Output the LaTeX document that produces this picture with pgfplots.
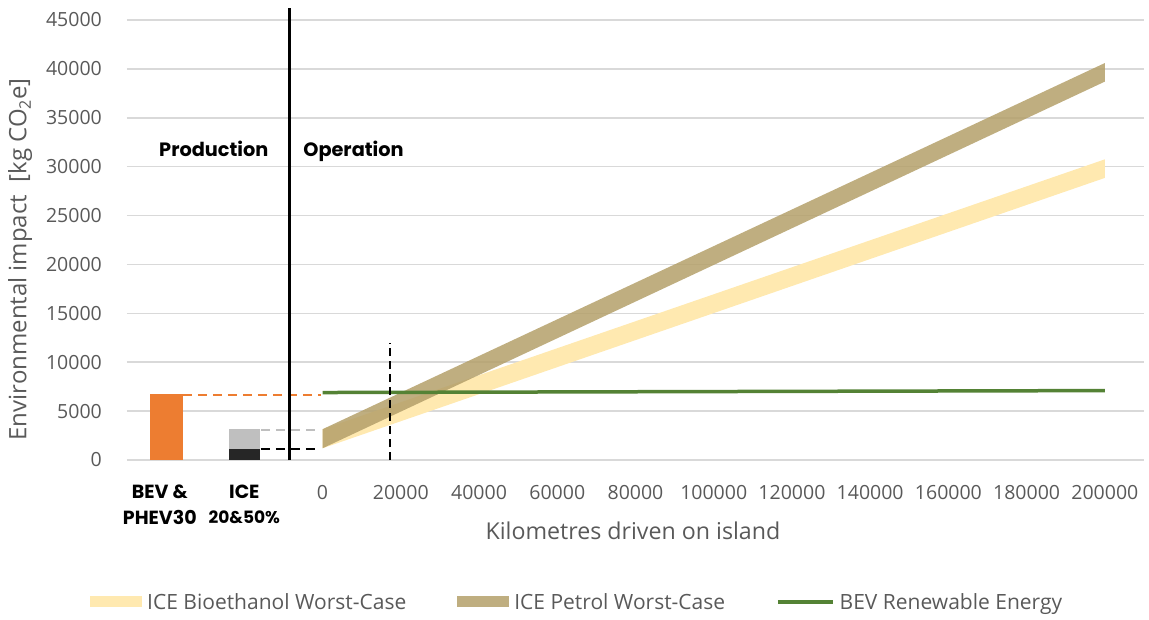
\documentclass[border=0pt]{standalone}
\usepackage{fontspec}
\setmainfont{Open Sans}
\newfontfamily\gothic{Poppins}
\usepackage{pgfplots}
\pgfplotsset{compat=1.18}

\definecolor{txtgray}{HTML}{595959}
\definecolor{gridgray}{HTML}{D9D9D9}
\definecolor{bevorange}{HTML}{ED7D31}
\definecolor{icegray}{HTML}{BFBFBF}
\definecolor{icedark}{HTML}{262626}
\definecolor{bevgreen}{HTML}{548235}
\definecolor{bioyellow}{RGB}{255,233,176}
\definecolor{petrol}{RGB}{180,160,106}

\pgfplotsset{
  arealeg/.style={legend image code/.code={\fill[##1] (0pt,-5.5pt) rectangle (52pt,5.5pt);}},
  lineleg/.style={legend image code/.code={\draw[##1] (0pt,0pt) -- (55pt,0pt);}},
}

\newcommand\catfont{\gothic\bfseries\fontsize{19}{20}\selectfont}
\newcommand\phasefont{\gothic\bfseries\fontsize{19.3}{20}\selectfont}

\begin{document}
\begin{tikzpicture}
\useasboundingbox (-127pt,-159pt) rectangle (1022pt,460pt);
\begin{axis}[
  at={(0pt,0pt)}, anchor=south west,
  scale only axis, width=1017pt, height=440pt,
  xmin=-50000, xmax=210000, ymin=0, ymax=45000,
  xtick={0,20000,40000,60000,80000,100000,120000,140000,160000,180000,200000},
  xticklabels={0,20000,40000,60000,80000,100000,120000,140000,160000,180000,200000},
  ytick={0,5000,10000,15000,20000,25000,30000,35000,40000,45000},
  yticklabels={0,5000,10000,15000,20000,25000,30000,35000,40000,45000},
  scaled ticks=false,
  ymajorgrids, grid style={draw=gridgray, line width=1.6pt},
  axis line style={draw=none},
  major tick length=0pt,
  tick label style={font=\fontsize{19.5}{22}\selectfont, text=txtgray, inner sep=0pt},
  xticklabel style={anchor=north, yshift=-25pt},
  yticklabel style={anchor=east, xshift=-25pt},
  xlabel={Kilometres driven on island},
  ylabel={Environmental impact\ \ [kg CO{\fontsize{16}{16}\selectfont\raisebox{-4.5pt}{2}}e]},
  label style={text=txtgray},
  xlabel style={font=\fontsize{23.2}{26}\selectfont, at={(axis description cs:0.4975,-0.161)}, anchor=center},
  ylabel style={font=\fontsize{24}{26}\selectfont, at={(axis description cs:-0.1052,0.4557)}, anchor=center},
  clip=false,
  no markers,
  legend columns=3,
  legend style={at={(axis description cs:-0.0364,-0.3227)}, anchor=west,
    draw=none, fill=none, inner sep=0pt,
    font=\fontsize{21}{24}\selectfont, text=txtgray,
    nodes={inner sep=0pt},
    /tikz/every odd column/.append style={column sep=5pt},
    /tikz/every even column/.append style={column sep=51pt}},
]

% operation bands
\addplot[fill=bioyellow, draw=none, arealeg]
  coordinates {(0,1200) (200000,28850) (200000,30750) (0,3150)} -- cycle;
\addlegendentry{ICE Bioethanol Worst-Case}
\addplot[fill=petrol, fill opacity=0.85, draw=none, arealeg]
  coordinates {(0,1200) (200000,38700) (200000,40600) (0,3150)} -- cycle;
\addlegendentry{ICE Petrol Worst-Case}

% production bars
\addplot[ybar, bar width=33pt, bar shift=0pt, fill=bevorange, draw=none, forget plot]
  coordinates {(-40000,6800)};
\addplot[ybar, bar width=31pt, bar shift=0pt, fill=icegray, draw=none, forget plot]
  coordinates {(-20000,3200)};
\addplot[ybar, bar width=31pt, bar shift=0pt, fill=icedark, draw=none, forget plot]
  coordinates {(-20000,1150)};

% connectors
\addplot[bevorange, line width=2pt, dash pattern=on 9pt off 6pt, forget plot]
  coordinates {(-35700,6650) (-500,6650)};
\addplot[icegray, line width=2pt, dash pattern=on 9pt off 6pt, forget plot]
  coordinates {(-15800,3070) (-500,3070)};
\addplot[black, line width=2pt, dash pattern=on 9pt off 6pt, forget plot]
  coordinates {(-15800,1150) (-500,1150)};

% BEV operation
\addplot[bevgreen, line width=3.5pt, lineleg]
  coordinates {(0,6900) (200000,7100)};
\addlegendentry{BEV Renewable Energy}

% separators
\addplot[black, line width=2.5pt, forget plot]
  coordinates {(-8420,0) (-8420,46200)};
\addplot[black, line width=2pt, dash pattern=on 8pt off 5pt, forget plot]
  coordinates {(17300,0) (17300,12000)};

\node[anchor=base, font=\phasefont] at (axis cs:-27800,31000) {Production};
\node[anchor=base, font=\phasefont] at (axis cs:7910,31000) {Operation};

\node[anchor=base, font=\catfont] at (axis cs:-41600,-3940) {BEV \&};
\node[anchor=base, font=\catfont] at (axis cs:-41600,-6600) {PHEV30};
\node[anchor=base, font=\catfont] at (axis cs:-20000,-3940) {ICE};
\node[anchor=base, font=\gothic\bfseries\fontsize{17}{18}\selectfont] at (axis cs:-20000,-6450) {20\&50\%};
\end{axis}
\end{tikzpicture}
\end{document}
